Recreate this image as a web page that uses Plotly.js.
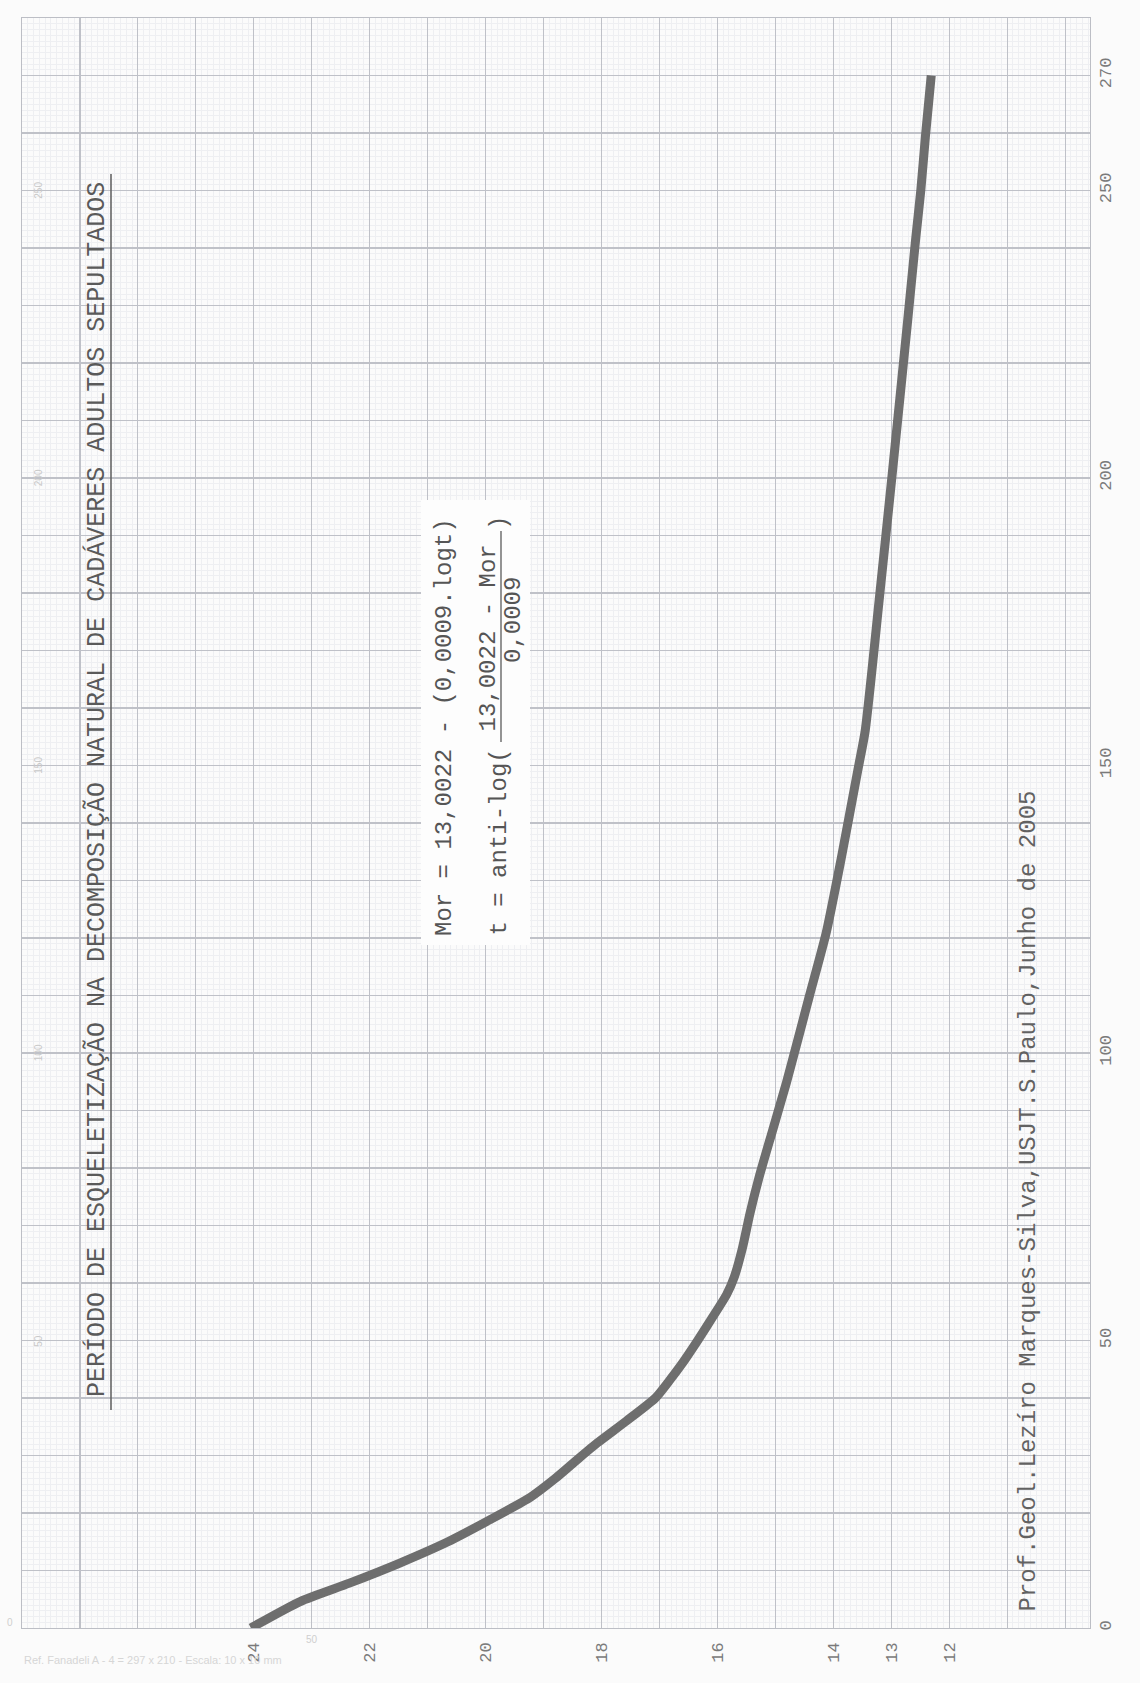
<!DOCTYPE html>
<html><head><meta charset="utf-8">
<script src="https://cdn.plot.ly/plotly-3.0.1.min.js"></script>
<style>html,body{margin:0;padding:0;background:#fbfbfb}</style>
</head><body>
<div id="chart" style="width:1140px;height:1683px"></div>
<script>
// ---- data ----
const days = [0, 4.6, 7.8, 11.3, 15, 18.8, 22.8, 26, 29, 32.2, 36, 40, 43, 46.1, 50, 54.1, 58, 61, 66, 72, 78.4, 86.1, 94.8, 103.5, 110, 121, 134, 149, 156, 178.6, 201, 227, 241.4, 250, 259.4, 270];
const mor  = [24.05, 23.2, 22.35, 21.48, 20.65, 19.93, 19.22, 18.80, 18.45, 18.07, 17.57, 17.07, 16.83, 16.60, 16.34, 16.08, 15.84, 15.71, 15.57, 15.44, 15.28, 15.06, 14.81, 14.58, 14.41, 14.12, 13.86, 13.58, 13.45, 13.21, 12.98, 12.72, 12.58, 12.49, 12.41, 12.31];
const morTicks = [24, 22, 20, 18, 16, 14, 13, 12];
const dayTicks = [0, 50, 100, 150, 200, 250, 270];
const paperScaleLabels = [50, 100, 150, 200, 250];
const titleText = "PERÍODO DE ESQUELETIZAÇÃO NA DECOMPOSIÇÃO NATURAL DE CADÁVERES ADULTOS SEPULTADOS";
const formula1 = "Mor = 13,0022 - (0,0009.logt)";
const formula2a = "t = anti-log(";
const formula2num = "13,0022 - Mor";
const formula2den = "0,0009";
const authorText = "Prof.Geol.Lezíro Marques-Silva,USJT.S.Paulo,Junho de 2005";
const refText = "Ref. Fanadeli A - 4 = 297 x 210 - Escala: 10 x 10 mm";

// ---- layout geometry ----
const L = 22, R = 1090, T = 18, B = 1628;
const X_RANGE = [28, 9.57], Y_RANGE = [0, 280];
const px = x => (x - L) / (R - L);
const py = y => (B - y) / (B - T);
const MONO = "Liberation Mono, DejaVu Sans Mono, monospace";

const traces = [
  {x: [], y: [], xaxis: 'x2', yaxis: 'y2', type: 'scatter', mode: 'lines', showlegend: false, hoverinfo: 'skip'},
  {x: [], y: [], xaxis: 'x3', yaxis: 'y3', type: 'scatter', mode: 'lines', showlegend: false, hoverinfo: 'skip'},
  {x: mor, y: days, xaxis: 'x', yaxis: 'y', type: 'scatter', mode: 'lines',
   line: {color: '#6e6e6e', width: 9, shape: 'spline', smoothing: 0.6}, showlegend: false}
];

function ann(text, x, y, opts) {
  return Object.assign({text: text, xref: 'paper', yref: 'paper', x: px(x), y: py(y),
    showarrow: false, textangle: -90, xanchor: 'center', yanchor: 'middle',
    font: {family: MONO, size: 24, color: '#555555'}}, opts || {});
}

const annotations = [
  ann(titleText, 97, 790, {font: {family: MONO, size: 25, color: '#5a5a5a'}}),
  ann(formula1, 444, 727),
  ann(formula2a, 499, 938, {yanchor: 'bottom'}),
  ann(formula2num, 488, 543, {yanchor: 'top'}),
  ann(formula2den, 514, 620),
  ann(")", 499, 523),
  ann(authorText, 1028, 1614, {yanchor: 'bottom', font: {family: MONO, size: 24, color: '#626262'}}),
  ann(refText, 22, 1660, {textangle: 0, xanchor: 'left', font: {family: 'Liberation Sans, Arial', size: 11, color: '#d6d6d6'}}),
  ann("0", 10, 1622, {textangle: 0, font: {family: 'Liberation Sans, Arial', size: 10, color: '#cfcfcf'}}),
  ann("50", 312, 1639, {textangle: 0, font: {family: 'Liberation Sans, Arial', size: 10, color: '#cfcfcf'}})
];
paperScaleLabels.forEach(v => annotations.push({
  text: String(v), xref: 'x', yref: 'y', x: 27.72, y: v, showarrow: false, textangle: -90,
  font: {family: 'Liberation Sans, Arial', size: 10, color: '#c9c9c9'}
}));

const shapes = [
  {type: 'rect', xref: 'paper', yref: 'paper', x0: px(421), x1: px(530), y0: py(945), y1: py(500),
   fillcolor: '#fdfdfd', line: {width: 0}, layer: 'above'},
  {type: 'line', xref: 'paper', yref: 'paper', x0: px(111), x1: px(111), y0: py(1410), y1: py(174),
   line: {color: '#666666', width: 1.6}, layer: 'above'},
  {type: 'line', xref: 'paper', yref: 'paper', x0: px(501), x1: px(501), y0: py(742), y1: py(531),
   line: {color: '#666666', width: 1.4}, layer: 'above'}
];

const gridBase = {showticklabels: false, zeroline: false, ticks: '', fixedrange: true};
const layout = {
  width: 1140, height: 1683,
  margin: {l: L, r: 1140 - R, t: T, b: 1683 - B},
  paper_bgcolor: '#fbfbfb', plot_bgcolor: '#fbfbfb',
  showlegend: false,
  xaxis: {range: X_RANGE, tickvals: morTicks, ticktext: morTicks.map(String), showgrid: false,
    zeroline: false, showline: false, ticks: '', tickangle: -90, ticklabelstandoff: 10,
    tickfont: {family: MONO, size: 17, color: '#7a7a7a'}, fixedrange: true},
  yaxis: {range: Y_RANGE, side: 'right', tickvals: dayTicks, ticktext: dayTicks.map(String),
    showgrid: false, zeroline: false, showline: false, ticks: '', tickangle: -90, ticklabelstandoff: 3,
    tickfont: {family: MONO, size: 17, color: '#7a7a7a'}, fixedrange: true},
  xaxis2: Object.assign({}, gridBase, {overlaying: 'x', anchor: 'y2', range: X_RANGE, tick0: 0, dtick: 0.1,
    showgrid: true, gridcolor: '#eeeff2', gridwidth: 1}),
  yaxis2: Object.assign({}, gridBase, {overlaying: 'y', anchor: 'x2', range: Y_RANGE, tick0: 0, dtick: 1,
    showgrid: true, gridcolor: '#eeeff2', gridwidth: 1}),
  xaxis3: Object.assign({}, gridBase, {overlaying: 'x', anchor: 'y3', range: X_RANGE, tick0: 0, dtick: 1,
    showgrid: true, gridcolor: '#bfc1c8', gridwidth: 1.1,
    minor: {dtick: 0.5, tick0: 0, showgrid: true, gridcolor: '#d9dadf', gridwidth: 1},
    showline: true, mirror: true, linecolor: '#bcbec5', linewidth: 1.2}),
  yaxis3: Object.assign({}, gridBase, {overlaying: 'y', anchor: 'x3', range: Y_RANGE, tick0: 0, dtick: 10,
    showgrid: true, gridcolor: '#bfc1c8', gridwidth: 1.1,
    minor: {dtick: 5, tick0: 0, showgrid: true, gridcolor: '#d9dadf', gridwidth: 1},
    showline: true, mirror: true, linecolor: '#bcbec5', linewidth: 1.2}),
  annotations: annotations,
  shapes: shapes
};

Plotly.newPlot('chart', traces, layout, {staticPlot: true, displayModeBar: false});
</script>
</body></html>
